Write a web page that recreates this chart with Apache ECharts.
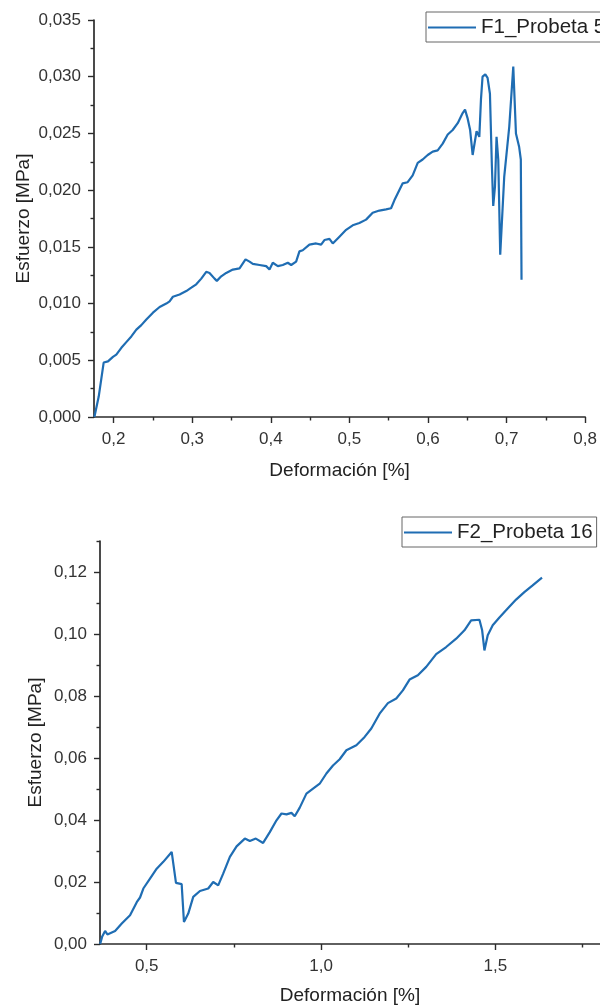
<!DOCTYPE html>
<html><head><meta charset="utf-8">
<script src="https://cdn.jsdelivr.net/npm/echarts@6/dist/echarts.min.js"></script>
<style>html,body{margin:0;padding:0;background:#fff}#c{width:600px;height:1006px}</style>
</head><body><div id="c"></div>
<script>
// ---------- Data ----------
const f1Name = 'F1_Probeta 5';
const f1Strain = [0.1755,0.1770,0.1810,0.1873,0.1928,0.1991,0.2034,0.2098,0.2161,0.2225,0.2289,0.2352,0.2416,0.2500,0.2585,0.2670,0.2712,0.2754,0.2839,0.2924,0.2988,0.3051,0.3115,0.3178,0.3220,0.3284,0.3313,0.3369,0.3432,0.3517,0.3602,0.3678,0.3729,0.3771,0.3856,0.3941,0.3983,0.4025,0.4089,0.4152,0.4216,0.4259,0.4322,0.4364,0.4406,0.4491,0.4577,0.4640,0.4682,0.4746,0.4788,0.4873,0.4958,0.5042,0.5127,0.5212,0.5296,0.5381,0.5466,0.5530,0.5572,0.5614,0.5678,0.5741,0.5805,0.5869,0.5932,0.5996,0.6060,0.6123,0.6187,0.6251,0.6314,0.6378,0.6441,0.6471,0.6505,0.6536,0.6568,0.6599,0.6618,0.6653,0.6674,0.6694,0.6729,0.6758,0.6788,0.6813,0.6830,0.6852,0.6872,0.6894,0.6919,0.6970,0.7034,0.7085,0.7119,0.7160,0.7181,0.7190];
const f1Stress = [0.0000,0.0000,0.0018,0.0048,0.0049,0.0053,0.0055,0.0061,0.0066,0.0071,0.0077,0.0081,0.0086,0.0092,0.0097,0.0100,0.0102,0.0106,0.0108,0.0111,0.0114,0.0117,0.0122,0.0128,0.0127,0.0122,0.0120,0.0124,0.0127,0.0130,0.0131,0.0139,0.0137,0.0135,0.0134,0.0133,0.0130,0.0136,0.0133,0.0134,0.0136,0.0134,0.0137,0.0146,0.0147,0.0152,0.0153,0.0152,0.0156,0.0157,0.0153,0.0159,0.0165,0.0169,0.0171,0.0174,0.0180,0.0182,0.0183,0.0184,0.0191,0.0197,0.0206,0.0207,0.0213,0.0224,0.0227,0.0231,0.0234,0.0235,0.0241,0.0249,0.0253,0.0259,0.0268,0.0271,0.0263,0.0253,0.0231,0.0244,0.0252,0.0247,0.0280,0.0300,0.0302,0.0299,0.0285,0.0221,0.0186,0.0203,0.0247,0.0227,0.0143,0.0212,0.0256,0.0309,0.0250,0.0238,0.0227,0.0121];

const f2Name = 'F2_Probeta 16';
const f2Strain = [0.3664,0.3720,0.3806,0.3872,0.4093,0.4284,0.4522,0.4714,0.4808,0.4903,0.5094,0.5286,0.5475,0.5716,0.5762,0.5839,0.6002,0.6068,0.6191,0.6334,0.6526,0.6764,0.6907,0.7050,0.7193,0.7385,0.7577,0.7814,0.7957,0.8129,0.8338,0.8530,0.8722,0.8865,0.9008,0.9151,0.9245,0.9389,0.9580,0.9770,0.9961,1.0153,1.0342,1.0534,1.0726,1.1012,1.1250,1.1441,1.1679,1.1917,1.2157,1.2346,1.2538,1.2776,1.3016,1.3302,1.3588,1.3875,1.4112,1.4304,1.4542,1.4620,1.4685,1.4780,1.4923,1.5115,1.5352,1.5593,1.5830,1.6068,1.6337];
const f2Stress = [0.0000,0.0023,0.0042,0.0031,0.0042,0.0066,0.0093,0.0135,0.0150,0.0179,0.0211,0.0243,0.0265,0.0297,0.0292,0.0197,0.0193,0.0071,0.0098,0.0152,0.0171,0.0179,0.0200,0.0189,0.0227,0.0281,0.0315,0.0340,0.0332,0.0340,0.0326,0.0361,0.0399,0.0421,0.0418,0.0423,0.0412,0.0440,0.0485,0.0501,0.0517,0.0550,0.0576,0.0596,0.0625,0.0641,0.0668,0.0695,0.0743,0.0777,0.0792,0.0818,0.0853,0.0867,0.0894,0.0935,0.0958,0.0985,0.1012,0.1044,0.1046,0.1012,0.0947,0.0996,0.1028,0.1053,0.1082,0.1111,0.1135,0.1157,0.1182];

// Tick values
const f1XMajor = [0.2,0.3,0.4,0.5,0.6,0.7,0.8];
const f1XMinor = [0.25,0.35,0.45,0.55,0.65,0.75];
const f1YMajor = [0,0.005,0.01,0.015,0.02,0.025,0.03,0.035];
const f1YMinor = [0.0025,0.0075,0.0125,0.0175,0.0225,0.0275,0.0325];
const f2XMajor = [0.5,1.0,1.5];
const f2XMinor = [0.75,1.25,1.75];
const f2YMajor = [0,0.02,0.04,0.06,0.08,0.10,0.12];
const f2YMinor = [0.01,0.03,0.05,0.07,0.09,0.11,0.13];

const xTitle = 'Deformación [%]';
const yTitle = 'Esfuerzo [MPa]';

// ---------- Chart ----------
const FONT = '"Liberation Sans", Arial, sans-serif';
const AX = '#2b2b2b';
const BLUE = '#1f6db3';
const fmt = d => v => v.toFixed(d).replace('.', ',');
const zip = (a, b) => a.map((v, i) => [v, b[i]]);

function axisPair(dim, grid, min, max, major, minor, dec, name, nameGap) {
  const isX = dim === 'x';
  const pos = isX ? 'bottom' : 'left';
  return [{
    gridIndex: grid, type: 'value', min, max, position: pos, offset: 0,
    name, nameLocation: 'middle', nameGap, nameMoveOverlap: isX,
    nameTextStyle: { fontSize: 19, color: '#222', fontFamily: FONT },
    axisLine: { show: true, onZero: false, lineStyle: { color: AX, width: 1.7 } },
    axisTick: { show: true, inside: false, length: 6, customValues: major, lineStyle: { color: AX, width: 1.4 } },
    minorTick: { show: false },
    axisLabel: { show: true, customValues: major, margin: isX ? 14 : 13, formatter: fmt(dec),
      fontSize: 17, color: '#333', fontFamily: FONT, showMinLabel: true, showMaxLabel: true },
    splitLine: { show: false }
  }, {
    gridIndex: grid, type: 'value', min, max, position: pos, offset: 0,
    axisLine: { show: false, onZero: false },
    axisTick: { show: true, inside: false, length: 3.5, customValues: minor, lineStyle: { color: AX, width: 1.4 } },
    axisLabel: { show: false },
    splitLine: { show: false }
  }];
}

const legendBase = {
  orient: 'horizontal', icon: 'rect', itemWidth: 48, itemHeight: 2, itemGap: 0,
  borderColor: '#666', borderWidth: 1, borderRadius: 0, padding: [5, 4, 4, 2],
  textStyle: { fontSize: 20.5, color: '#222', fontFamily: FONT },
  backgroundColor: '#fff'
};

const option = {
  animation: false,
  backgroundColor: '#fff',
  textStyle: { fontFamily: FONT },
  grid: [
    { left: 94, top: 20, width: 493, height: 397 },
    { left: 100, top: 541, width: 500, height: 403 }
  ],
  xAxis: [
    ...axisPair('x', 0, 0.175, 0.8, f1XMajor, f1XMinor, 1, xTitle, 44),
    ...axisPair('x', 1, 0.366, 1.8, f2XMajor, f2XMinor, 1, xTitle, 42)
  ],
  yAxis: [
    ...axisPair('y', 0, 0, 0.035, f1YMajor, f1YMinor, 3, yTitle, 61),
    ...axisPair('y', 1, 0, 0.13, f2YMajor, f2YMinor, 2, yTitle, 55)
  ],
  legend: [
    Object.assign({}, legendBase, { data: [f1Name], left: 426, top: 12 }),
    Object.assign({}, legendBase, { data: [f2Name], left: 402, top: 517 })
  ],
  series: [
    { name: f1Name, type: 'line', xAxisIndex: 0, yAxisIndex: 0, data: zip(f1Strain, f1Stress),
      symbol: 'none', showSymbol: false, color: BLUE, lineStyle: { width: 2.2, color: BLUE } },
    { name: f2Name, type: 'line', xAxisIndex: 2, yAxisIndex: 2, data: zip(f2Strain, f2Stress),
      symbol: 'none', showSymbol: false, color: BLUE, lineStyle: { width: 2.2, color: BLUE } }
  ]
};

const chart = echarts.init(document.getElementById('c'), null, { renderer: 'canvas' });
chart.setOption(option);
</script>
</body></html>
